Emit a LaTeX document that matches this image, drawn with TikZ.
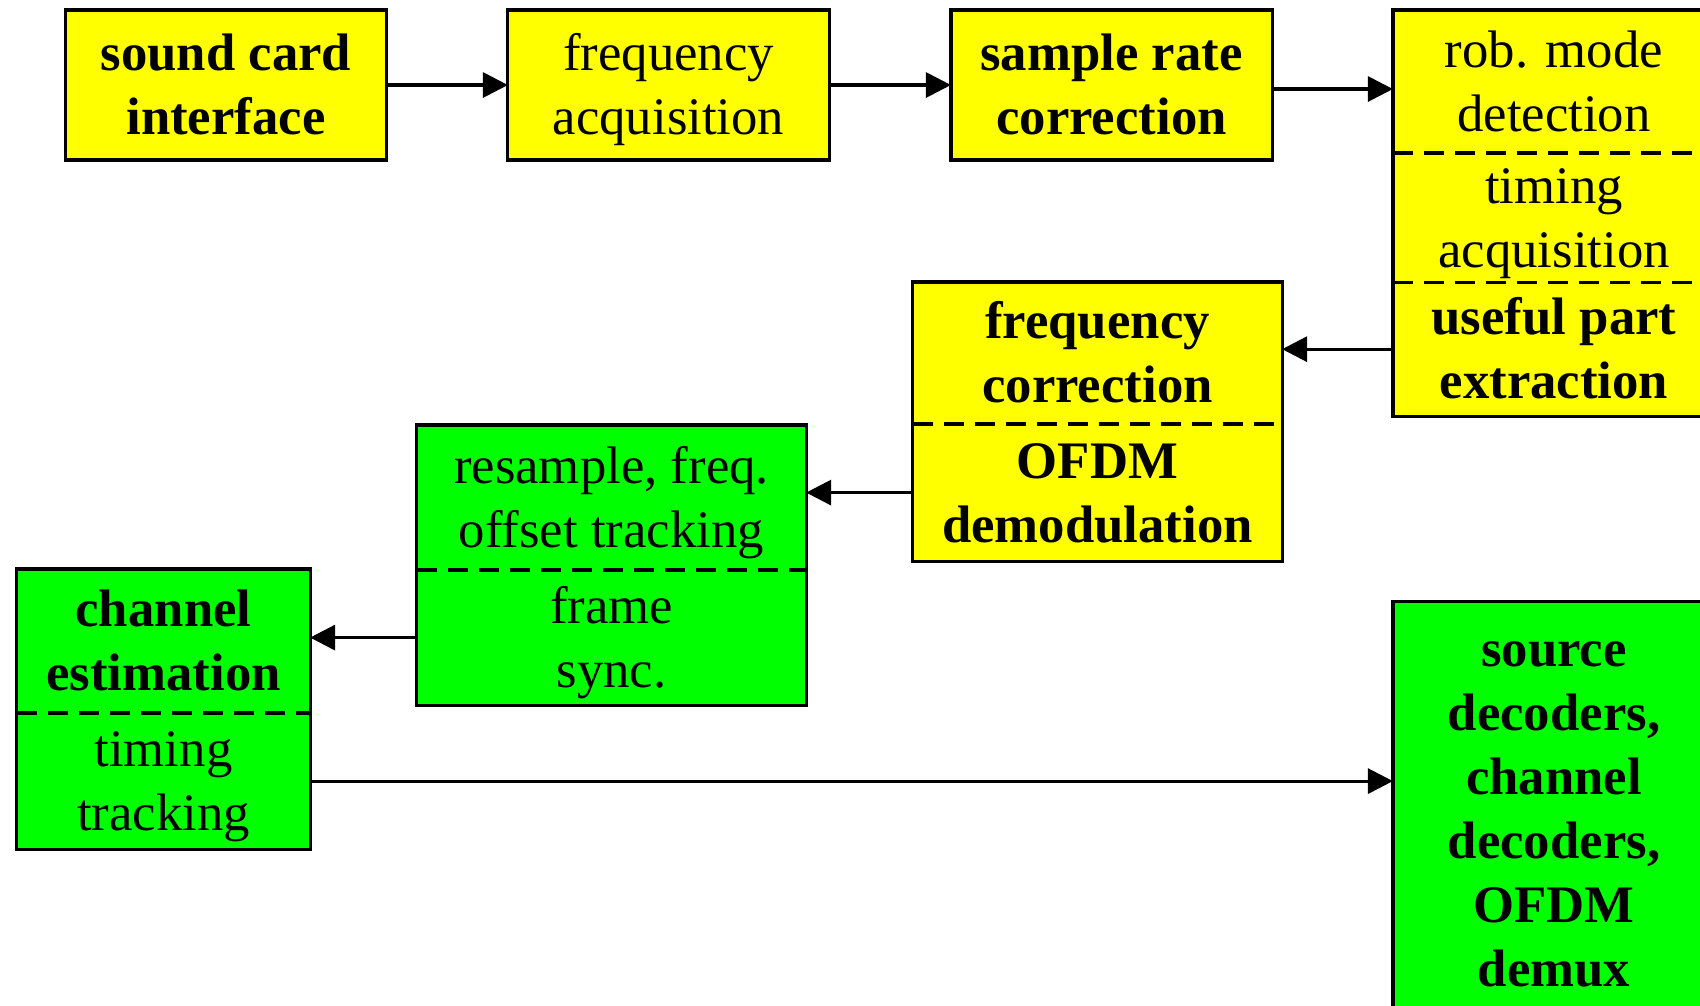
\documentclass[tikz,border=0pt]{standalone}
\usepackage{fontspec}
\setmainfont{Liberation Serif}
\usetikzlibrary{positioning,fit,arrows.meta}
\definecolor{boxyellow}{RGB}{255,255,0}
\definecolor{boxgreen}{RGB}{0,255,0}
\newcommand{\firstline}{\rule{0pt}{13.3pt}}
\newcommand{\lastline}{\rule[-3.3pt]{0pt}{3.3pt}}

\begin{document}
\begin{tikzpicture}[x=0.01cm, y=0.01cm,
    partnode/.style={rectangle, inner sep=0pt, outer sep=0pt, align=center, font=\fontsize{15}{18.2}\selectfont},
    yellownode/.style={partnode, fill=boxyellow},
    greennode/.style={partnode, fill=boxgreen},
    boxframe/.style={rectangle, draw, line width=0.9pt, inner sep=0pt},
    splitline/.style={line width=0.9pt, dash pattern=on 0.2cm off 0.11cm},
    link/.style={-{Triangle[length=2.5mm, width=2.5mm]}, line width=0.9pt}]

        \useasboundingbox (0,0) rectangle (1700,-1005);
        \clip (0,0) rectangle (1700,-1005);

        % top row
        \node[yellownode, minimum width=3.2cm, minimum height=1.5cm] (1) at (226,-85) {\firstline\bfseries sound card\\\bfseries interface\lastline};
        \node[yellownode, minimum width=3.21cm, minimum height=1.5cm] (2) at (668.5,-85) {\firstline frequency\\acquisition\lastline};
        \node[yellownode, minimum width=3.21cm, minimum height=1.5cm] (3) at (1111.5,-85) {\firstline\bfseries sample rate\\\bfseries correction\lastline};
        \node[boxframe, fit=(1)] {};
        \node[boxframe, fit=(2)] {};
        \node[boxframe, fit=(3)] {};

        \node[yellownode, minimum width=3.22cm, minimum height=1.43cm] (4a) at (1554,-81.5) {\firstline rob. mode\\detection\lastline};
        \node[yellownode, minimum width=3.22cm, minimum height=1.29cm] (4b) [below=0cm of 4a] {\firstline timing\\acquisition\lastline};
        \node[yellownode, minimum width=3.22cm, minimum height=1.34cm] (4c) [below=0cm of 4b] {\firstline\bfseries useful part\\\bfseries extraction\lastline};
        \node[boxframe, fit=(4a)(4c)] {};
        \draw[splitline] (4a.south west) -- (4a.south east);
        \draw[splitline] (4b.south west) -- (4b.south east);

        % middle
        \node[yellownode, minimum width=3.69cm, minimum height=1.42cm] (5a) at (1097.5,-353) {\firstline\bfseries frequency\\\bfseries correction\lastline};
        \node[yellownode, minimum width=3.69cm, minimum height=1.37cm] (5b) [below=0cm of 5a] {\firstline\bfseries OFDM\\\bfseries demodulation\lastline};
        \node[boxframe, fit=(5a)(5b)] {};
        \draw[splitline] (5a.south west) -- (5a.south east);

        \node[greennode, minimum width=3.89cm, minimum height=1.45cm] (6a) at (611.5,-497.5) {\firstline resample, freq.\\offset tracking\lastline};
        \node[greennode, minimum width=3.89cm, minimum height=1.35cm] (6b) [below=0cm of 6a] {\firstline frame\\sync.\lastline};
        \node[boxframe, fit=(6a)(6b)] {};
        \draw[splitline] (6a.south west) -- (6a.south east);

        \node[greennode, minimum width=2.93cm, minimum height=1.44cm] (7a) at (163.5,-641) {\firstline\bfseries channel\\\bfseries estimation\lastline};
        \node[greennode, minimum width=2.93cm, minimum height=1.36cm] (7b) [below=0cm of 7a] {\firstline timing\\tracking\lastline};
        \node[boxframe, fit=(7a)(7b)] {};
        \draw[splitline] (7a.south west) -- (7a.south east);

        \node[greennode, minimum width=3.22cm, minimum height=4.13cm] (8) at (1554,-808.5) {\firstline\bfseries source\\\bfseries decoders,\\\bfseries channel\\\bfseries decoders,\\\bfseries OFDM\\\bfseries demux\lastline};
        \node[boxframe, fit=(8)] {};

        % connectors
        \draw[link] (1.east) -- (2.west);
        \draw[link] (2.east) -- (3.west);
        \draw[link] ([yshift=-0.04cm]3.east) -- ([yshift=-0.04cm]3.east -| 4a.west);
        \draw[link] (4c.west) -- (4c.west -| 5a.east);
        \draw[link] (5b.west) -- (5b.west -| 6a.east);
        \draw[link] (6b.west) -- (6b.west -| 7a.east);
        \draw[link] (7b.east) -- (7b.east -| 8.west);

\end{tikzpicture}
\end{document}
